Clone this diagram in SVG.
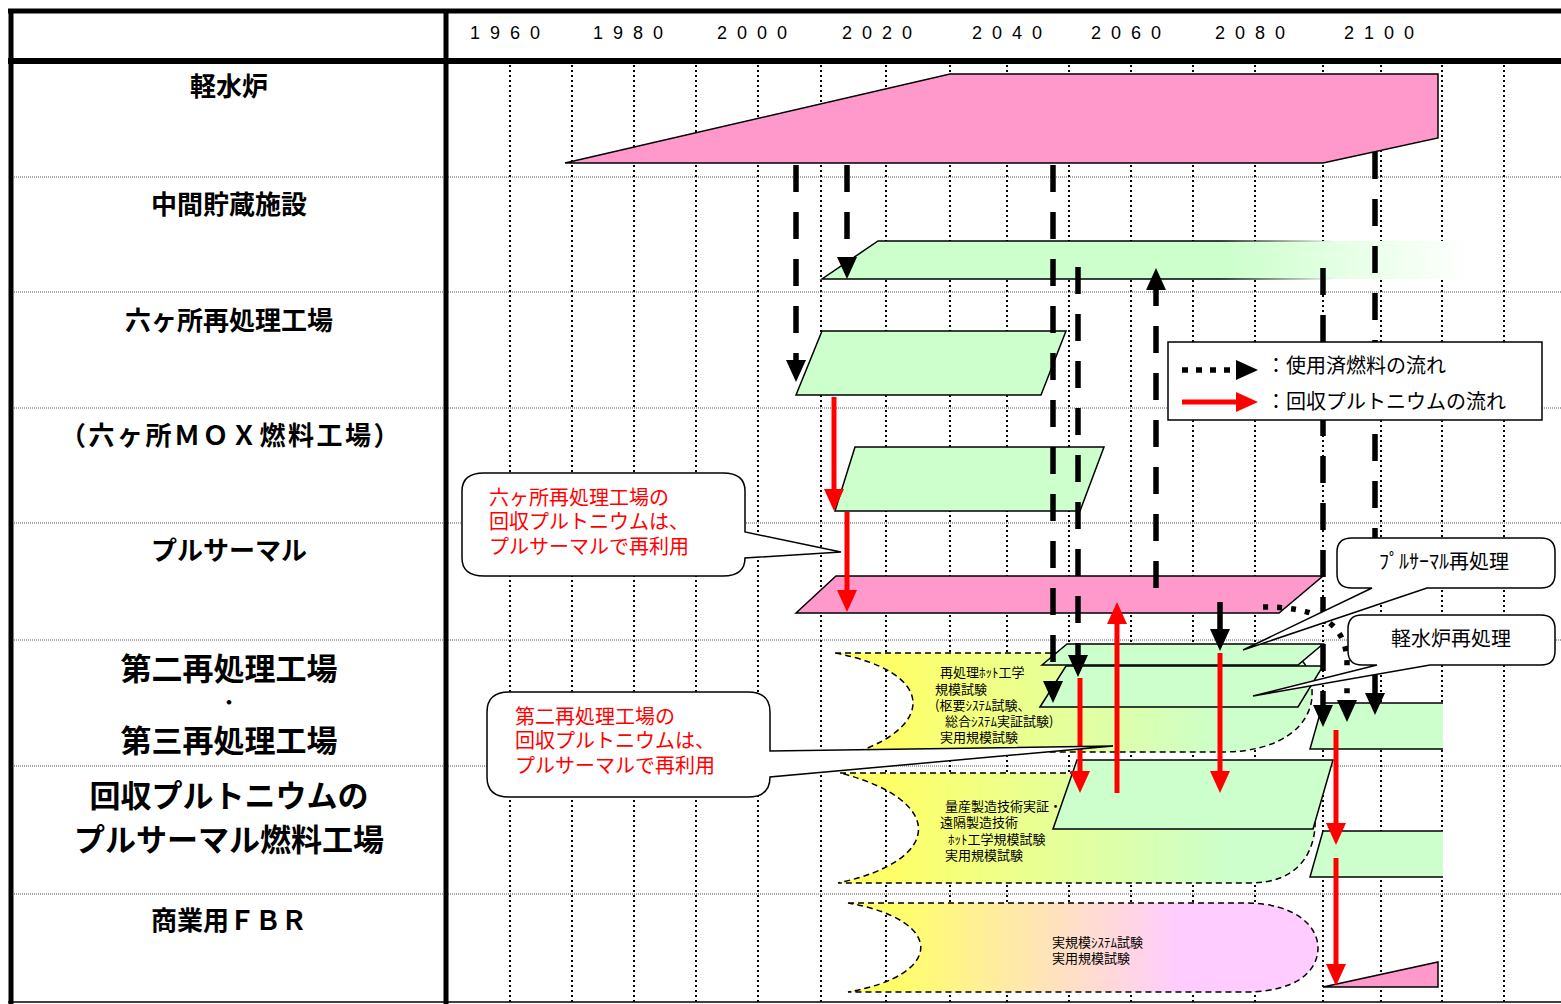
<svg xmlns="http://www.w3.org/2000/svg" width="1561" height="1004" viewBox="0 0 1561 1004">
<style>
.lbl{font-family:"Noto Sans CJK JP","Liberation Sans",sans-serif;font-weight:700;fill:#000;text-anchor:middle}
.yr{font-family:"Liberation Sans",sans-serif;font-size:18px;letter-spacing:10px;fill:#000}
.note{font-family:"Noto Sans CJK JP",sans-serif;font-size:20px;fill:#f00}
.txt{font-family:"Noto Sans CJK JP",sans-serif;font-size:20px;fill:#000}
.small{font-family:"Noto Sans CJK JP",sans-serif;font-size:13px;fill:#000}
.grid{stroke:#000;stroke-width:2;stroke-dasharray:2 3}
.row{stroke:#555;stroke-width:1;stroke-dasharray:1 1}
.frame{stroke:#000;fill:none}
.sf{stroke:#000;stroke-width:5.5;stroke-dasharray:27 20;fill:none;marker-end:url(#hb)}
.dot{stroke:#000;stroke-width:5.5;stroke-dasharray:5 9;fill:none;marker-end:url(#hb)}
.pu{stroke:#f00;stroke-width:5;fill:none;marker-end:url(#hr)}
.green{fill:#CCFFCC;stroke:#000;stroke-width:1.5}
.pink{fill:#FF99CC;stroke:#000;stroke-width:1.5}
.dsh{stroke:#000;stroke-width:1.5;stroke-dasharray:6 4}
.callout{fill:#fff;stroke:#000;stroke-width:1.5}
</style>
<defs>
<marker id="hb" markerUnits="userSpaceOnUse" markerWidth="22" markerHeight="20" refX="7" refY="10" orient="auto"><path d="M0,0 L22,10 L0,20 Z" fill="#000"/></marker>
<marker id="hr" markerUnits="userSpaceOnUse" markerWidth="22" markerHeight="20" refX="7" refY="10" orient="auto"><path d="M0,0 L22,10 L0,20 Z" fill="#f00"/></marker>
<linearGradient id="gFade" gradientUnits="userSpaceOnUse" x1="1225" y1="0" x2="1470" y2="0"><stop offset="0" stop-color="#CCFFCC"/><stop offset="1" stop-color="#fff"/></linearGradient>
<linearGradient id="gFadeStroke" gradientUnits="userSpaceOnUse" x1="1220" y1="0" x2="1335" y2="0"><stop offset="0" stop-color="#000" stop-opacity="1"/><stop offset="1" stop-color="#000" stop-opacity="0"/></linearGradient>
<linearGradient id="gYG" gradientUnits="userSpaceOnUse" x1="890" y1="0" x2="1230" y2="0"><stop offset="0" stop-color="#FFFF66"/><stop offset="1" stop-color="#CCFFCC"/></linearGradient>
<linearGradient id="gYP" gradientUnits="userSpaceOnUse" x1="890" y1="0" x2="1180" y2="0"><stop offset="0" stop-color="#FFFF66"/><stop offset="1" stop-color="#FFCCFF"/></linearGradient>
</defs>
<rect width="1561" height="1004" fill="#fff"/>

<g id="grid">
<line class="row" x1="14" y1="177" x2="1561" y2="177"/>
<line class="row" x1="14" y1="292" x2="1561" y2="292"/>
<line class="row" x1="14" y1="408" x2="1561" y2="408"/>
<line class="row" x1="14" y1="523" x2="1561" y2="523"/>
<line class="row" x1="14" y1="640" x2="1561" y2="640"/>
<line class="row" x1="14" y1="766" x2="1561" y2="766"/>
<line class="row" x1="14" y1="894" x2="1561" y2="894"/>
<line class="grid" x1="510" y1="65" x2="510" y2="1002"/>
<line class="grid" x1="572" y1="65" x2="572" y2="1002"/>
<line class="grid" x1="634" y1="65" x2="634" y2="1002"/>
<line class="grid" x1="696" y1="65" x2="696" y2="1002"/>
<line class="grid" x1="758" y1="65" x2="758" y2="1002"/>
<line class="grid" x1="821" y1="65" x2="821" y2="1002"/>
<line class="grid" x1="886" y1="65" x2="886" y2="1002"/>
<line class="grid" x1="950" y1="65" x2="950" y2="1002"/>
<line class="grid" x1="1007" y1="65" x2="1007" y2="1002"/>
<line class="grid" x1="1069" y1="65" x2="1069" y2="1002"/>
<line class="grid" x1="1131" y1="65" x2="1131" y2="1002"/>
<line class="grid" x1="1193" y1="65" x2="1193" y2="1002"/>
<line class="grid" x1="1255" y1="65" x2="1255" y2="1002"/>
<line class="grid" x1="1323" y1="65" x2="1323" y2="1002"/>
<line class="grid" x1="1381" y1="65" x2="1381" y2="1002"/>
<line class="grid" x1="1442" y1="65" x2="1442" y2="1002"/>
<line class="grid" x1="1504" y1="65" x2="1504" y2="1002"/>
</g>

<g id="frame">
<line class="frame" x1="8" y1="11" x2="1561" y2="11" stroke-width="5"/>
<line class="frame" x1="8" y1="61" x2="1561" y2="61" stroke-width="6"/>
<line class="frame" x1="11" y1="9" x2="11" y2="1004" stroke-width="5"/>
<line class="frame" x1="446" y1="9" x2="446" y2="1004" stroke-width="5"/>
<line class="frame" x1="8" y1="1002" x2="1561" y2="1002" stroke-width="1.5"/>
</g>

<g id="years">
<text class="yr" x="470" y="39">1960</text>
<text class="yr" x="593" y="39">1980</text>
<text class="yr" x="717" y="39">2000</text>
<text class="yr" x="842" y="39">2020</text>
<text class="yr" x="972" y="39">2040</text>
<text class="yr" x="1091" y="39">2060</text>
<text class="yr" x="1215" y="39">2080</text>
<text class="yr" x="1344" y="39">2100</text>
</g>

<g id="labels">
<text class="lbl" x="229" y="96" font-size="26">軽水炉</text>
<text class="lbl" x="229" y="214" font-size="26">中間貯蔵施設</text>
<text class="lbl" x="229" y="330" font-size="26">六ヶ所再処理工場</text>
<text class="lbl" x="231" y="445" font-size="26" letter-spacing="2.5">（六ヶ所ＭＯＸ燃料工場）</text>
<text class="lbl" x="229" y="560" font-size="26">プルサーマル</text>
<text class="lbl" x="229" y="680" font-size="31">第二再処理工場</text>
<text class="lbl" x="229" y="709" font-size="18">・</text>
<text class="lbl" x="229" y="752" font-size="31">第三再処理工場</text>
<text class="lbl" x="229" y="807" font-size="31">回収プルトニウムの</text>
<text class="lbl" x="229" y="851" font-size="31">プルサーマル燃料工場</text>
<text class="lbl" x="229" y="930" font-size="26">商業用ＦＢＲ</text>
</g>

<g id="dev-reprocessing2">
<path class="dsh" fill="url(#gYG)" d="M835,653 H1285 C1305,653 1313,675 1312,697 C1310,725 1282,752 1222,752 H857 C935,725 935,672 835,653 Z"/>
<text class="small" x="940" y="677">再処理ﾎｯﾄ工学</text>
<text class="small" x="935" y="694">規模試験</text>
<text class="small" x="935" y="710">(枢要ｼｽﾃﾑ試験、</text>
<text class="small" x="945" y="726">総合ｼｽﾃﾑ実証試験)</text>
<text class="small" x="940" y="742">実用規模試験</text>
</g>
<g id="dev-fuel">
<path class="dsh" fill="url(#gYG)" d="M840,773 H1290 C1310,773 1316,800 1315,828 C1312,860 1292,883 1250,883 H838 C945,860 945,800 840,773 Z"/>
<text class="small" x="945" y="811">量産製造技術実証・</text>
<text class="small" x="940" y="827">遠隔製造技術</text>
<text class="small" x="948" y="844">ﾎｯﾄ工学規模試験</text>
<text class="small" x="945" y="860">実用規模試験</text>
</g>
<g id="dev-fbr">
<path class="dsh" fill="url(#gYP)" d="M848,903 H1245 C1298,903 1318,928 1318,948 C1318,970 1298,992 1245,992 H848 C945,975 945,920 848,903 Z"/>
<text class="small" x="1052" y="947">実規模ｼｽﾃﾑ試験</text>
<text class="small" x="1052" y="963">実用規模試験</text>
</g>

<g id="lwr"><path class="pink" d="M565,163 L950,74 H1438 V138 L1323,163 Z"/></g>
<g id="storage">
<path fill="url(#gFade)" d="M822,279 L878,241 H1475 V279 Z"/>
<path fill="none" stroke="url(#gFadeStroke)" stroke-width="1.5" d="M1340,241 H878 L822,279 H1340"/>
</g>
<g id="rokkasho-rep"><path class="green" d="M796,395 L822,331 H1066 L1041,395 Z"/></g>
<g id="rokkasho-mox"><path class="green" d="M835,511 L855,447 H1104 L1080,511 Z"/></g>
<g id="pluthermal"><path class="pink" d="M796,613 L836,576 H1323 L1279,613 Z"/></g>
<g id="rep2">
<path class="green" d="M1040,707 L1066,666 H1323 L1298,707 Z"/>
<path class="green" d="M1042,665 L1067,644 H1323 L1298,665 Z"/>
</g>
<g id="rep3"><path class="green" d="M1443,703 H1323 L1310,749 H1443"/></g>
<g id="fuel2"><path class="green" d="M1053,829 L1077,760 H1333 L1313,829 Z"/></g>
<g id="fuel3"><path class="green" d="M1443,831 H1323 L1310,877 H1443"/></g>
<g id="fbr"><path class="pink" d="M1323,987 L1438,962 V987 Z"/></g>

<g id="connectors">
<line class="sf" x1="796" y1="165" x2="796" y2="367"/>
<line class="sf" x1="847" y1="165" x2="847" y2="264"/>
<line class="sf" x1="1053" y1="165" x2="1053" y2="688"/>
<line class="sf" x1="1078" y1="267" x2="1078" y2="662"/>
<line class="sf" x1="1156" y1="588" x2="1156" y2="283"/>
<line class="sf" x1="1220" y1="602" x2="1220" y2="636"/>
<line class="sf" x1="1323" y1="268" x2="1323" y2="712"/>
<line class="sf" x1="1375" y1="152" x2="1375" y2="700"/>
<path class="dot" d="M1263,607 C1310,607 1346,618 1347,662 L1347,707"/>
<line class="pu" x1="834" y1="397" x2="834" y2="496"/>
<line class="pu" x1="847" y1="512" x2="847" y2="597"/>
<line class="pu" x1="1080" y1="678" x2="1080" y2="778"/>
<line class="pu" x1="1117" y1="793" x2="1117" y2="617"/>
<line class="pu" x1="1220" y1="653" x2="1220" y2="778"/>
<line class="pu" x1="1336" y1="730" x2="1336" y2="830"/>
<line class="pu" x1="1336" y1="858" x2="1336" y2="971"/>
</g>

<g id="legend">
<rect x="1168" y="342" width="374" height="78" fill="#fff" stroke="#000" stroke-width="1.5"/>
<line class="dot" stroke-width="6" style="stroke-dasharray:6 8" x1="1182" y1="370" x2="1243" y2="370"/>
<line class="pu" x1="1182" y1="402" x2="1243" y2="402"/>
<text class="txt" x="1266" y="373">：使用済燃料の流れ</text>
<text class="txt" x="1266" y="409">：回収プルトニウムの流れ</text>
</g>

<g id="callout-rokkasho">
<path class="callout" d="M484,473 H723 Q745,473 745,491 V532 L841,552 L745,558 Q745,576 723,576 H484 Q462,576 462,558 V491 Q462,473 484,473 Z"/>
<text class="note" x="489" y="505">六ヶ所再処理工場の</text>
<text class="note" x="489" y="529">回収プルトニウムは、</text>
<text class="note" x="489" y="554">プルサーマルで再利用</text>
</g>
<g id="callout-rep2">
<path class="callout" d="M509,692 H748 Q770,692 770,712 V751 L1113,746 L770,777 Q770,797 748,797 H509 Q487,797 487,777 V712 Q487,692 509,692 Z"/>
<text class="note" x="515" y="724">第二再処理工場の</text>
<text class="note" x="515" y="748">回収プルトニウムは、</text>
<text class="note" x="515" y="773">プルサーマルで再利用</text>
</g>
<g id="callout-pluthermal-rep">
<path class="callout" d="M1352,538 H1541 Q1555,538 1555,552 V574 Q1555,588 1541,588 H1427 L1243,650 L1372,588 H1352 Q1337,588 1337,574 V552 Q1337,538 1352,538 Z"/>
<text class="txt" x="1444" y="569" text-anchor="middle">ﾌﾟﾙｻｰﾏﾙ再処理</text>
</g>
<g id="callout-lwr-rep">
<path class="callout" d="M1362,615 H1541 Q1555,615 1555,629 V651 Q1555,665 1541,665 H1430 L1253,696 L1377,665 H1362 Q1348,665 1348,651 V629 Q1348,615 1362,615 Z"/>
<text class="txt" x="1451" y="646" text-anchor="middle">軽水炉再処理</text>
</g>
</svg>
